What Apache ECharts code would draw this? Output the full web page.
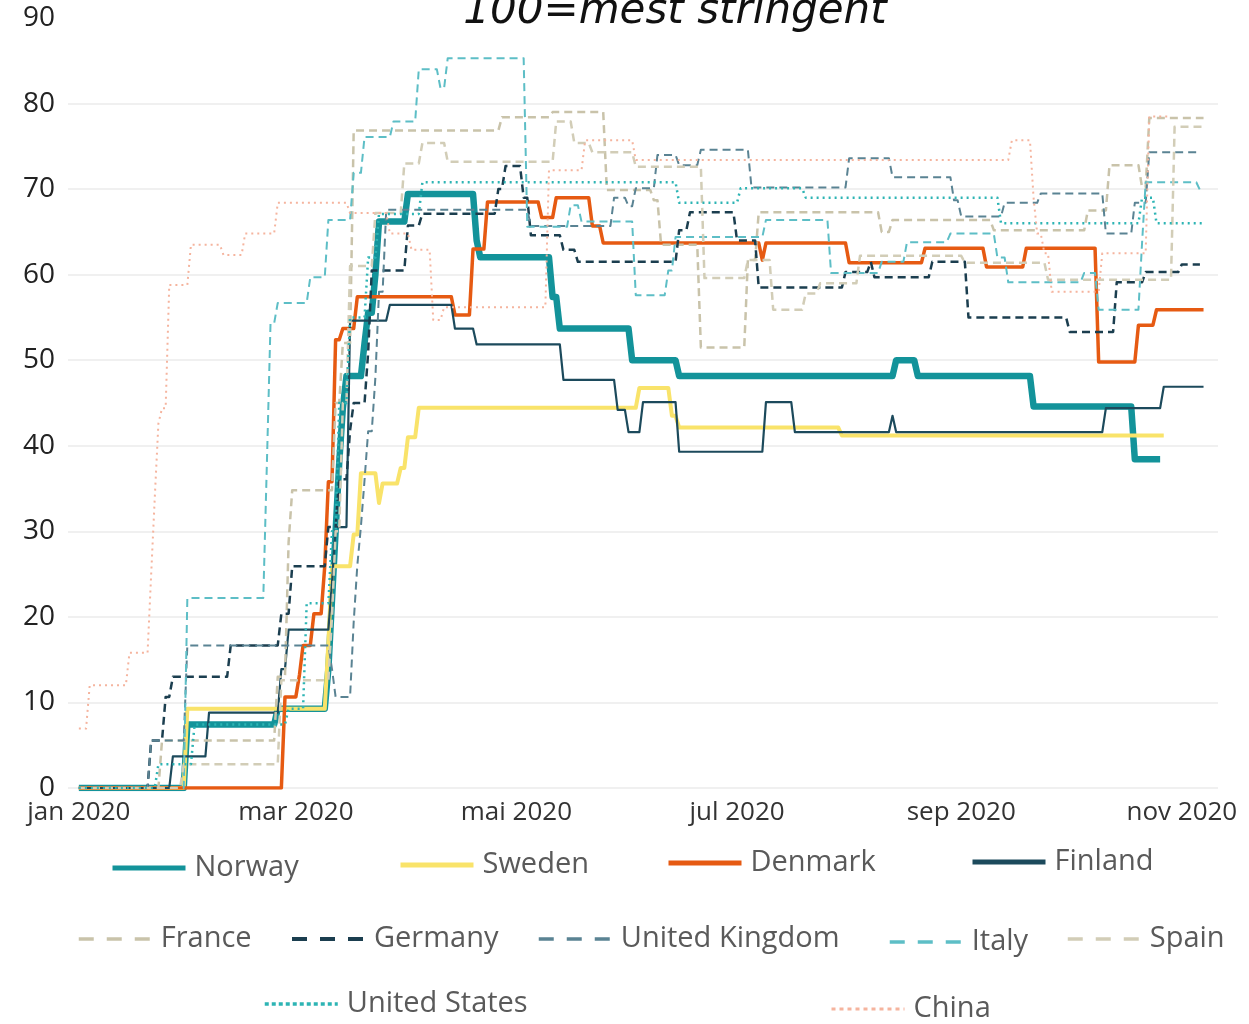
<!DOCTYPE html>
<html>
<head>
<meta charset="utf-8">
<script src="https://cdn.jsdelivr.net/npm/echarts@6/dist/echarts.min.js"></script>
<style>
html,body{margin:0;padding:0;background:#fff;}
#chart{width:1249px;height:1024px;}
</style>
</head>
<body>
<div id="chart"></div>
<script>
// ---- data: [date (2020 MM-DD), value] at each change of level ----
const norway = [['01-01',0],['01-31',7.41],['02-25',9.26],['03-10',13.9],['03-11',22],['03-12',30],['03-13',38],['03-14',44.4],['03-15',48.15],['03-20',52],['03-21',55.56],['03-23',60],['03-24',66.2],['04-01',69.44],['04-20',64],['04-21',62.04],['05-11',57.4],['05-13',53.7],['06-02',50],['06-15',48.15],['08-14',50],['08-20',48.15],['09-21',44.6],['10-19',38.43],['10-26',38.43]];
const sweden = [['01-01',0],['01-31',9.26],['03-10',17],['03-11',25.93],['03-17',29.63],['03-19',36.8],['03-24',33.3],['03-25',35.6],['03-30',37.4],['04-01',41],['04-04',44.44],['06-04',46.76],['06-13',43.5],['06-15',42.13],['07-30',41.2],['10-27',41.2]];
const denmark = [['01-01',0],['02-27',10.65],['03-02',13.2],['03-03',16.67],['03-06',20.37],['03-09',25.93],['03-10',35.8],['03-12',52.4],['03-14',53.7],['03-18',57.41],['04-14',55.3],['04-19',63],['04-23',68.5],['05-08',66.67],['05-12',68.98],['05-22',65.7],['05-25',63.7],['07-08',61.7],['07-09',63.7],['08-01',61.4],['08-22',63.1],['09-08',60.9],['09-19',63.1],['10-09',49.8],['10-20',54.1],['10-25',55.9],['11-07',55.9]];
const finland = [['01-01',0],['01-27',3.7],['02-06',8.8],['02-26',13.9],['02-28',18.52],['03-11',24],['03-12',30.5],['03-16',54.63],['03-27',56.48],['04-14',53.7],['04-20',51.85],['05-14',47.7],['05-29',44.2],['06-01',41.6],['06-05',45.1],['06-15',39.3],['07-09',45.1],['07-17',41.6],['08-13',43.5],['08-14',41.6],['10-11',44.4],['10-27',46.9],['11-07',46.9]];
const france = [['01-01',0],['01-24',5.56],['02-25',13],['02-28',28.7],['02-29',34.8],['03-12',45],['03-14',52],['03-17',76.85],['04-27',78.4],['05-11',79],['05-26',69.9],['06-08',68.7],['06-10',63.5],['06-21',51.5],['07-04',61.7],['07-07',67.3],['08-10',65],['08-13',66.4],['09-10',65.2],['10-06',67.5],['10-12',72.8],['10-21',70.2],['10-23',78.3],['11-07',78.3]];
const germany = [['01-01',0],['01-21',5.56],['01-25',10.65],['01-27',13],['02-12',16.67],['02-26',20.37],['02-29',25.93],['03-10',30.5],['03-13',36.1],['03-16',41.8],['03-17',45],['03-21',50.9],['03-22',60.5],['04-01',65.74],['04-05',67.13],['04-26',70],['04-28',72.7],['05-03',69],['05-05',64.6],['05-14',62.9],['05-18',61.5],['06-15',65.2],['06-18',67.3],['07-01',64],['07-07',58.5],['07-31',60.3],['08-07',61.5],['08-08',59.7],['08-24',61.5],['09-03',55],['10-01',53.3],['10-14',59.1],['10-22',60.3],['11-01',61.2],['11-06',61.2]];
const unitedKingdom = [['01-01',0],['01-21',5.56],['01-31',16.67],['03-11',13.9],['03-12',10.65],['03-17',19.4],['03-18',26],['03-19',30.6],['03-20',36],['03-21',41.7],['03-23',48],['03-24',58],['03-26',67.6],['05-05',65.7],['05-28',69],['06-01',68],['06-03',70.1],['06-09',74],['06-15',72.8],['06-21',74.6],['07-05',70.2],['08-01',73.6],['08-13',71.4],['08-30',68.7],['09-01',66.8],['09-13',68.4],['09-23',69.5],['10-11',64.8],['10-19',68.4],['10-23',74.3],['11-05',74.3]];
const italy = [['01-01',0],['01-31',22.2],['02-22',38],['02-23',54.3],['02-25',56.7],['03-05',59.7],['03-10',66.4],['03-17',71.9],['03-20',76.1],['03-28',77.9],['04-04',84],['04-10',81.8],['04-12',85.3],['05-04',65.6],['05-16',68.1],['05-19',66.2],['06-03',57.6],['06-12',60.5],['06-14',64.4],['07-09',66.4],['07-27',60.2],['08-10',61.5],['08-17',63.8],['08-29',64.8],['09-11',62],['09-14',59.1],['10-05',60.2],['10-09',55.9],['10-21',63.7],['10-22',70.8],['11-06',69.9],['11-07',69.9]];
const spain = [['01-01',0],['01-30',2.78],['02-26',12.6],['03-11',20],['03-12',30],['03-14',45],['03-16',61],['03-23',67.2],['03-31',73],['04-05',75.4],['04-12',73.2],['05-12',77.9],['05-17',75.4],['05-22',74.3],['06-03',72.6],['06-22',59.6],['07-04',61.7],['07-11',55.9],['07-20',57.8],['07-24',59],['08-04',62.2],['09-02',61.4],['09-25',59.4],['10-30',77.3],['11-07',77.3]];
const unitedStates = [['01-01',0],['01-23',2.78],['02-02',7.41],['02-28',9.26],['03-04',21.6],['03-11',30],['03-13',45],['03-16',55],['03-21',62],['03-24',67.1],['04-05',70.8],['06-15',68.4],['07-02',70.1],['07-20',69],['09-12',66],['10-21',69],['10-25',66],['11-07',66]];
const china = [['01-01',6.94],['01-04',12],['01-15',15.8],['01-21',25],['01-22',34],['01-23',42.6],['01-24',44.4],['01-26',58.8],['02-01',63.5],['02-10',62.3],['02-16',64.8],['02-25',68.4],['03-16',67.2],['03-27',64.8],['04-02',62.9],['04-08',54.7],['04-11',56.2],['05-10',72.2],['05-20',75.7],['06-03',73.4],['09-15',75.7],['09-21',69],['09-22',64.8],['09-24',62.5],['09-26',58],['10-10',62.5],['10-23',78.5],['10-28',78.5]];

const monthTicks = ['01-01','03-01','05-01','07-01','09-01','11-01'];
const monthNames = ['jan','feb','mar','apr','mai','jun','jul','aug','sep','okt','nov','des'];

// ---- helpers ----
const DAY = 86400000;
function ts(md){ const p = md.split('-').map(Number); return Date.UTC(2020, p[0]-1, p[1]); }
function build(points){
  const out = [];
  points.forEach(function(p, i){
    const t = ts(p[0]);
    if (i > 0) out.push([t - DAY, points[i-1][1]]);
    out.push([t, p[1]]);
  });
  return out;
}

const defs = [
  {name:'Norway', data:norway, color:'#13939A', width:6.5, type:'solid', leg:{left:110, cy:867, w:5, type:'solid'}},
  {name:'Sweden', data:sweden, color:'#F9E36A', width:4, type:'solid', leg:{left:398, cy:864, w:5, type:'solid'}},
  {name:'Denmark', data:denmark, color:'#E65A12', width:3.5, type:'solid', leg:{left:666, cy:862, w:5, type:'solid'}},
  {name:'Finland', data:finland, color:'#1C4A5C', width:2.2, type:'solid', leg:{left:970, cy:861, w:5, type:'solid'}},
  {name:'France', data:france, color:'#C9C3AA', width:2.5, type:[8,5], leg:{left:77, cy:938, w:3.5, type:[15,13]}},
  {name:'Germany', data:germany, color:'#1B3E4F', width:2.5, type:[8,5], leg:{left:290, cy:938, w:4, type:[15,13]}},
  {name:'United Kingdom', data:unitedKingdom, color:'#5A8393', width:2, type:[8,5], leg:{left:537, cy:938, w:3.5, type:[15,13]}},
  {name:'Italy', data:italy, color:'#5DBEC6', width:2, type:[8,5], leg:{left:888, cy:941, w:3.5, type:[15,13]}},
  {name:'Spain', data:spain, color:'#D2CDB7', width:2.5, type:[8,5], leg:{left:1066, cy:938, w:3.5, type:[15,13]}},
  {name:'United States', data:unitedStates, color:'#2DB4B4', width:2.5, type:[2,4], leg:{left:263, cy:1003, w:3.5, type:[4,3]}},
  {name:'China', data:china, color:'#F5B49E', width:2, type:[2,4], leg:{left:830, cy:1008, w:3, type:[4,4]}}
];

const chart = echarts.init(document.getElementById('chart'), null, {renderer:'canvas'});

const option = {
  animation: false,
  backgroundColor: '#ffffff',
  textStyle: {fontFamily: 'Open Sans'},
  graphic: [{
    type: 'text', x: 675, y: -9,
    style: {text: '100=mest stringent', font: 'italic 42px "DejaVu Sans"', fill: '#111', align: 'center', textAlign: 'center', verticalAlign: 'top', textVerticalAlign: 'top'}
  }],
  grid: {left: 68, right: 31, top: 18, bottom: 236, containLabel: false},
  xAxis: {
    type: 'value',
    min: Date.UTC(2019, 11, 29),
    max: ts('11-11'),
    axisLine: {show: false},
    axisTick: {show: false},
    splitLine: {show: false},
    axisLabel: {
      customValues: monthTicks.map(ts),
      formatter: function(v){ const d = new Date(v); return monthNames[d.getUTCMonth()] + ' ' + d.getUTCFullYear(); },
      fontSize: 26, color: '#333', margin: 12, fontFamily: 'Open Sans',
      hideOverlap: false
    }
  },
  yAxis: {
    type: 'value', min: 0, max: 90, interval: 10,
    axisLine: {show: false}, axisTick: {show: false},
    axisLabel: {fontSize: 28, color: '#222', margin: 13, fontFamily: 'Open Sans'},
    splitLine: {lineStyle: {color: ['#EBEBEB','#EBEBEB','#EBEBEB','#EBEBEB','#EBEBEB','#EBEBEB','#EBEBEB','#EBEBEB','#EBEBEB','rgba(0,0,0,0)'], width: 1.5}}
  },
  legend: defs.map(function(d){
    return {
      data: [d.name], left: d.leg.left, top: d.leg.cy - 14,
      orient: 'horizontal', padding: 0, itemGap: 0,
      itemWidth: 73, itemHeight: 30, selectedMode: false,
      itemStyle: {opacity: 0, borderWidth: 0},
      lineStyle: {width: d.leg.w, type: d.leg.type, color: d.color},
      textStyle: {fontSize: 29, lineHeight: 30, color: '#5A5A5A', fontFamily: 'Open Sans', padding: [0,0,0,4]}
    };
  }),
  series: defs.map(function(d){
    return {
      name: d.name, type: 'line', data: build(d.data),
      showSymbol: false, symbol: 'none', smooth: false,
      lineStyle: {color: d.color, width: d.width, type: d.type, cap: 'butt', join: 'round'},
      itemStyle: {color: d.color},
      emphasis: {disabled: true}
    };
  })
};
chart.setOption(option);
</script>
</body>
</html>
